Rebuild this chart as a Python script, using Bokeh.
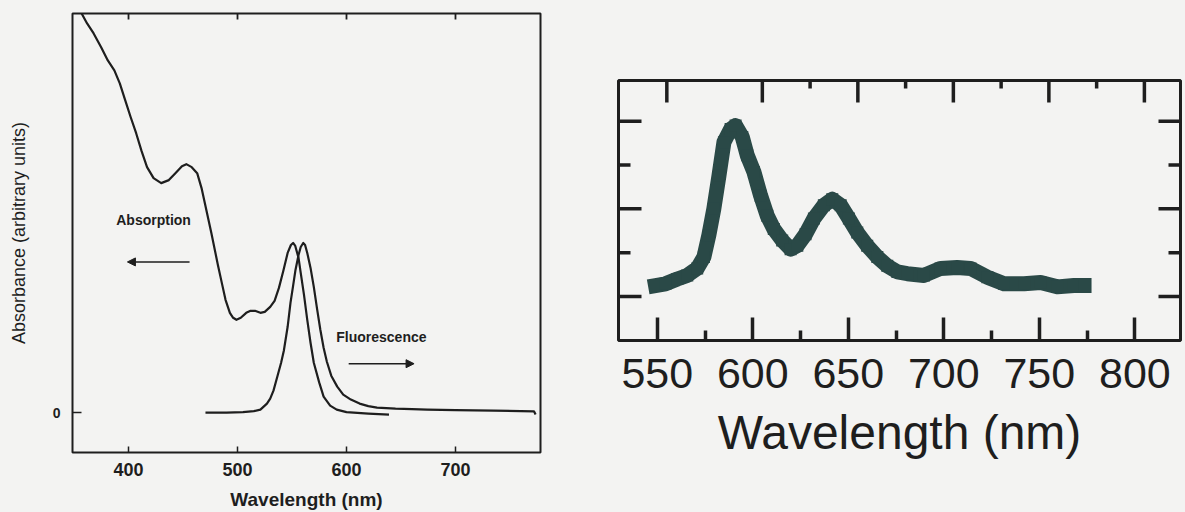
import numpy as np
from bokeh.plotting import figure
from bokeh.layouts import row, column
from bokeh.models import (Range1d, FixedTicker, LinearAxis, Label, Arrow, NormalHead)
from bokeh.embed import file_html
from bokeh.resources import INLINE

# ---------------- data: left panel ----------------
abs_wl = [356, 362, 368, 375, 381, 387, 392, 397, 402, 407, 412, 417, 423, 430, 437, 443,
          449, 453, 458, 463, 467, 470, 476, 482, 486, 489, 493, 496, 499, 503, 508, 512,
          516, 521, 525, 530, 534, 538, 542, 546, 549, 551, 553, 556, 558, 561, 564, 567,
          570, 575, 579, 585, 591, 600, 620, 639]
abs_val = [4.02, 3.90, 3.80, 3.66, 3.53, 3.43, 3.30, 3.13, 2.96, 2.80, 2.62, 2.46, 2.35, 2.30,
           2.33, 2.40, 2.47, 2.49, 2.46, 2.40, 2.25, 2.10, 1.80, 1.48, 1.28, 1.13, 1.00, 0.95,
           0.93, 0.95, 1.00, 1.02, 1.02, 1.00, 1.01, 1.06, 1.12, 1.25, 1.42, 1.60, 1.68, 1.70,
           1.67, 1.55, 1.40, 1.18, 0.93, 0.70, 0.50, 0.30, 0.16, 0.07, 0.03, 0.005, -0.01, -0.02]

fl_wl = [470.6, 490, 505, 515, 521, 527, 530, 533, 537, 540, 542.5, 546, 548.6, 551, 553.2,
         556, 558, 560.3, 562, 564, 567, 570, 573, 576, 579, 582, 586, 591.5, 597, 604, 612,
         620, 628, 645, 660, 674, 700, 735, 760, 772, 773.5]
fl_val = [0.0, 0.0, 0.005, 0.015, 0.03, 0.09, 0.14, 0.22, 0.38, 0.50, 0.62, 0.86, 1.10, 1.27,
          1.43, 1.58, 1.66, 1.70, 1.68, 1.60, 1.45, 1.26, 1.04, 0.83, 0.65, 0.51, 0.37, 0.26,
          0.18, 0.13, 0.09, 0.065, 0.05, 0.04, 0.035, 0.03, 0.025, 0.02, 0.015, 0.013, -0.02]

left_xticks = [400, 500, 600, 700]
left_yticks = [0]

ann_text = ["Absorption", "Fluorescence"]
ann_x = [423, 632]
ann_y = [1.93, 0.76]
arrow_x_start = [456, 602]
arrow_x_end = [399, 662]
arrow_y = [1.51, 0.49]

# ---------------- data: right panel ----------------
em_wl = [549.1, 554.3, 560.5, 565.7, 570.9, 574.4, 577.0, 579.6, 582.3, 584.9, 588.4, 591.0,
         594.5, 597.1, 600.6, 604.1, 607.6, 611.0, 615.4, 619.8, 623.3, 627.6, 632.0, 637.2,
         641.6, 646.0, 650.3, 654.7, 659.9, 665.2, 670.4, 675.7, 680.9, 689.6, 698.3, 707.0,
         714.0, 722.8, 731.5, 742.0, 750.7, 759.4, 768.1, 773.4]
em_val = [1.125, 1.145, 1.20, 1.24, 1.32, 1.45, 1.70, 2.00, 2.38, 2.76, 2.91, 2.95,
          2.82, 2.61, 2.42, 2.15, 1.92, 1.77, 1.64, 1.54, 1.58, 1.71, 1.89, 2.04,
          2.11, 2.04, 1.89, 1.73, 1.58, 1.45, 1.35, 1.28, 1.26, 1.24, 1.32, 1.33,
          1.32, 1.22, 1.145, 1.145, 1.16, 1.11, 1.125, 1.125]

right_xticks = [550, 600, 650, 700, 750, 800]
right_xminor = [575, 625, 675, 725, 775]
right_top_ticks = [555, 605, 655, 705, 755, 805]
right_top_minor = [630, 680, 730, 780]
right_yticks = [1, 2, 3]
right_yminor = [1.5, 2.5]

BG = "#f3f3f2"
INK = "#1e1e1e"

# ================= LEFT FIGURE =================
L_W, L_H = 580, 512
L_ML, L_MR, L_MT, L_MB = 72, 40, 13, 59
LX0, LX1, LY0, LY1 = 348.6, 778.0, -0.4, 4.0
p1 = figure(width=L_W, height=L_H, output_backend="svg", toolbar_location=None,
            x_range=Range1d(LX0, LX1), y_range=Range1d(LY0, LY1),
            x_axis_location=None, y_axis_location=None,
            min_border_left=L_ML, min_border_right=L_MR, min_border_top=L_MT,
            min_border_bottom=L_MB)
p1.background_fill_color = BG
p1.border_fill_color = BG
p1.outline_line_color = INK
p1.outline_line_width = 2
p1.grid.visible = False

xb = LinearAxis(ticker=FixedTicker(ticks=left_xticks, minor_ticks=[]),
                axis_label="Wavelength (nm)")
xb.axis_line_color = None
xb.major_tick_in = 6
xb.major_tick_out = 0
xb.major_tick_line_width = 1.5
xb.major_tick_line_color = INK
xb.minor_tick_line_color = None
xb.major_label_text_font = "Liberation Sans"
xb.major_label_text_font_style = "bold"
xb.major_label_text_font_size = "18px"
xb.major_label_text_color = INK
xb.major_label_standoff = 10
xb.axis_label_text_font = "Liberation Sans"
xb.axis_label_text_font_style = "bold"
xb.axis_label_text_font_size = "19px"
xb.axis_label_text_color = INK
xb.axis_label_standoff = 10
p1.add_layout(xb, "below")

yl = LinearAxis(ticker=FixedTicker(ticks=left_yticks, minor_ticks=[]),
                axis_label="Absorbance (arbitrary units)")
yl.axis_line_color = None
yl.major_tick_in = 9
yl.major_tick_out = 0
yl.major_tick_line_width = 1.5
yl.major_tick_line_color = INK
yl.minor_tick_line_color = None
yl.major_label_text_font = "Liberation Sans"
yl.major_label_text_font_style = "bold"
yl.major_label_text_font_size = "14px"
yl.major_label_text_color = INK
yl.major_label_standoff = 12
yl.axis_label_text_font = "Liberation Sans"
yl.axis_label_text_font_style = "normal"
yl.axis_label_text_font_size = "18px"
yl.axis_label_text_color = INK
yl.axis_label_standoff = 21
p1.add_layout(yl, "left")

# unlabeled inward ticks along the top edge (length in px converted to data units)
l_dy = (LY1 - LY0) / (L_H - L_MT - L_MB)
p1.segment(x0=left_xticks, y0=[LY1] * len(left_xticks), x1=left_xticks,
           y1=[LY1 - 6 * l_dy] * len(left_xticks), line_color=INK, line_width=1.8)

p1.line(abs_wl, abs_val, line_color=INK, line_width=2.2, line_join="round")
p1.line(fl_wl, fl_val, line_color=INK, line_width=2.2, line_join="round")

for t, x, y in zip(ann_text, ann_x, ann_y):
    p1.add_layout(Label(x=x, y=y, text=t, text_font="Liberation Sans", text_font_style="bold",
                        text_font_size="14px", text_color=INK, text_align="center",
                        text_baseline="middle"))
for xs, xe, y in zip(arrow_x_start, arrow_x_end, arrow_y):
    p1.add_layout(Arrow(x_start=xs, y_start=y, x_end=xe, y_end=y, line_color=INK, line_width=1.6,
                        end=NormalHead(size=8, fill_color=INK, line_color=INK)))

# ================= RIGHT FIGURE =================
R_W, R_H = 605, 512
R_ML, R_MR, R_MT, R_MB = 38, 5, 80, 172
RX0, RX1, RY0, RY1 = 529.7, 823.9, 0.498, 3.464
p2 = figure(width=R_W, height=R_H, output_backend="svg", toolbar_location=None,
            x_range=Range1d(RX0, RX1), y_range=Range1d(RY0, RY1),
            x_axis_location=None, y_axis_location=None,
            min_border_left=R_ML, min_border_right=R_MR, min_border_top=R_MT,
            min_border_bottom=R_MB)
p2.background_fill_color = BG
p2.border_fill_color = BG
p2.outline_line_color = INK
p2.outline_line_width = 3
p2.grid.visible = False

xb2 = LinearAxis(ticker=FixedTicker(ticks=right_xticks, minor_ticks=right_xminor),
                 axis_label="Wavelength (nm)")
xb2.axis_line_color = None
xb2.major_tick_in = 23
xb2.major_tick_out = 0
xb2.minor_tick_in = 10
xb2.minor_tick_out = 0
xb2.major_tick_line_width = 3.5
xb2.minor_tick_line_width = 3.5
xb2.major_tick_line_color = INK
xb2.minor_tick_line_color = INK
xb2.major_label_text_font = "Liberation Sans"
xb2.major_label_text_font_size = "43px"
xb2.major_label_text_color = INK
xb2.major_label_standoff = 18
xb2.axis_label_text_font = "Liberation Sans"
xb2.axis_label_text_font_style = "normal"
xb2.axis_label_text_font_size = "48px"
xb2.axis_label_text_color = INK
xb2.axis_label_standoff = 15
p2.add_layout(xb2, "below")

r_dx = (RX1 - RX0) / (R_W - R_ML - R_MR)
r_dy = (RY1 - RY0) / (R_H - R_MT - R_MB)
INKW = 3.5
# top edge ticks (inward)
p2.segment(x0=right_top_ticks, y0=[RY1] * 6, x1=right_top_ticks, y1=[RY1 - 22 * r_dy] * 6,
           line_color=INK, line_width=INKW)
p2.segment(x0=right_top_minor, y0=[RY1] * 4, x1=right_top_minor, y1=[RY1 - 8 * r_dy] * 4,
           line_color=INK, line_width=INKW)
# left edge ticks
p2.segment(x0=[RX0] * 3, y0=right_yticks, x1=[RX0 + 23 * r_dx] * 3, y1=right_yticks,
           line_color=INK, line_width=INKW)
p2.segment(x0=[RX0] * 2, y0=right_yminor, x1=[RX0 + 12 * r_dx] * 2, y1=right_yminor,
           line_color=INK, line_width=INKW)
# right edge ticks
p2.segment(x0=[RX1] * 3, y0=right_yticks, x1=[RX1 - 22 * r_dx] * 3, y1=right_yticks,
           line_color=INK, line_width=INKW)
p2.segment(x0=[RX1] * 2, y0=right_yminor, x1=[RX1 - 12 * r_dx] * 2, y1=right_yminor,
           line_color=INK, line_width=INKW)

DATA = "#2a4947"
p2.line(em_wl, em_val, line_color=DATA, line_width=15, line_join="round", line_cap="square")
p2.scatter(em_wl, em_val, marker="square", size=12, fill_color=DATA, line_color=None)

layout = row(column(p1), column(p2), spacing=0)
layout.styles = {"background-color": BG}

open("out.html", "w").write(file_html(layout, INLINE))
